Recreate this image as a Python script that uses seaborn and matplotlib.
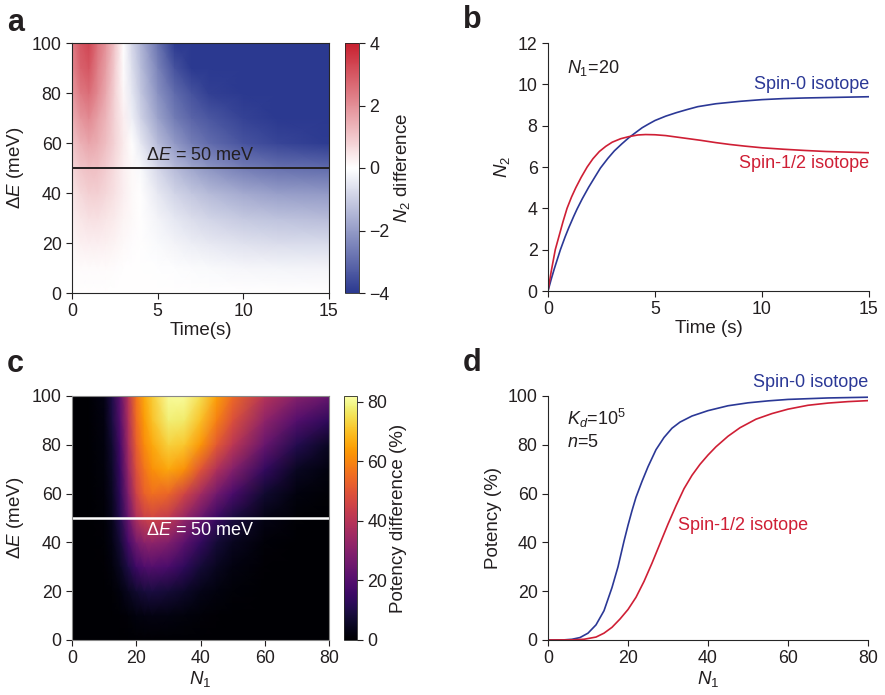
import numpy as np
import pandas as pd
import seaborn as sns
import matplotlib.pyplot as plt
from matplotlib.colors import LinearSegmentedColormap

# ---- panel a: N2 difference heatmap (rows = dE, cols = time) ----
a_time = [0, 0.5, 1, 1.5, 2, 2.5, 3, 3.5, 4, 5, 6, 7, 8, 10, 12, 15]
a_energy = [0, 10, 20, 30, 40, 50, 60, 70, 80, 90, 100]
a_n2diff = [
    [0] * 16,
    [0.05, 0.07, 0.08, 0.08, 0.07, 0.05, 0.03, 0.01, 0, -0.03, -0.06, -0.09, -0.12, -0.16, -0.2, -0.22],
    [0.15, 0.25, 0.3, 0.3, 0.25, 0.2, 0.1, 0.05, 0.0, -0.12, -0.25, -0.35, -0.45, -0.6, -0.7, -0.75],
    [0.3, 0.45, 0.55, 0.55, 0.45, 0.35, 0.2, 0.1, 0.02, -0.25, -0.5, -0.7, -0.85, -1.1, -1.25, -1.35],
    [0.45, 0.7, 0.85, 0.85, 0.7, 0.5, 0.3, 0.12, 0.0, -0.45, -0.85, -1.15, -1.4, -1.75, -1.95, -2.05],
    [0.7, 1.0, 1.15, 1.1, 0.9, 0.6, 0.3, 0.1, -0.1, -0.8, -1.35, -1.8, -2.15, -2.6, -2.85, -3.0],
    [1.0, 1.4, 1.6, 1.45, 1.15, 0.75, 0.35, 0.0, -0.45, -1.35, -2.05, -2.6, -2.95, -3.45, -3.75, -3.95],
    [1.4, 1.9, 2.1, 1.7, 1.3, 0.75, 0.3, -0.3, -0.85, -1.85, -2.65, -3.1, -3.4, -3.8, -4.1, -4.35],
    [1.8, 2.4, 2.6, 2.1, 1.5, 0.8, 0.15, -0.5, -1.1, -2.2, -3.0, -3.5, -3.85, -4.3, -4.6, -4.8],
    [2.1, 2.8, 3.0, 2.3, 1.7, 0.9, 0.05, -0.65, -1.3, -2.5, -3.5, -4.1, -4.5, -4.9, -5.1, -5.2],
    [2.3, 3.0, 3.3, 2.5, 1.9, 1.0, 0.0, -0.8, -1.5, -2.8, -4.0, -4.6, -4.9, -5.2, -5.3, -5.3],
]

# ---- panel b: N2 vs time for N1 = 20 ----
b_t_spin0 = [0, 0.15, 0.29, 0.45, 0.58, 0.8, 0.97, 1.2, 1.36, 1.6, 1.9, 2.2, 2.45, 2.8, 3.1, 3.45,
             3.78, 4.1, 4.4, 4.7, 5, 5.5, 6, 6.5, 7, 7.84, 9, 10, 11, 12, 13.5, 15]
b_n2_spin0 = [0, 0.57, 1.06, 1.58, 2.0, 2.62, 3.06, 3.61, 3.97, 4.46, 5.02, 5.53, 5.95, 6.42, 6.78, 7.12,
              7.42, 7.67, 7.9, 8.08, 8.25, 8.46, 8.63, 8.78, 8.92, 9.06, 9.18, 9.26, 9.31, 9.34, 9.37, 9.4]
b_t_spin12 = [0, 0.15, 0.34, 0.5, 0.7, 0.89, 1.1, 1.3, 1.55, 1.83, 2.1, 2.4, 2.7, 3.0, 3.4, 3.78, 4.2,
              4.56, 5.0, 5.5, 6.0, 6.5, 7.14, 7.84, 8.5, 9.2, 10, 11, 12, 13, 14, 15]
b_n2_spin12 = [0, 0.95, 2.0, 2.6, 3.35, 4.0, 4.55, 5.0, 5.5, 6.0, 6.4, 6.75, 7.0, 7.2, 7.37, 7.47, 7.55,
               7.57, 7.56, 7.52, 7.45, 7.38, 7.29, 7.18, 7.09, 7.01, 6.93, 6.86, 6.8, 6.75, 6.72, 6.69]

# ---- panel c: potency difference heatmap (rows = dE, cols = N1) ----
c_n1 = [0, 5, 10, 12.5, 15, 17.5, 20, 22.5, 25, 30, 35, 40, 45, 50, 60, 70, 80]
c_energy = [0, 10, 20, 30, 40, 50, 60, 70, 80, 90, 100]
c_potdiff = [
    [0] * 17,
    [0, 0, 0.1, 0.2, 0.5, 1.2, 2, 2.5, 2.7, 2.4, 1.8, 1.1, 0.6, 0.3, 0.1, 0, 0],
    [0.1, 0, 0.3, 0.8, 2.2, 4.5, 7, 8.5, 9, 8, 6, 3.5, 2, 1, 0.3, 0.1, 0],
    [0.1, 0.1, 0.5, 1.8, 5, 10, 16, 19, 20, 18, 13, 8, 4.5, 2.5, 0.6, 0.2, 0],
    [0.2, 0.1, 0.8, 3, 8, 17, 26, 31, 32, 29, 22, 14, 8, 4.5, 1.2, 0.3, 0.1],
    [0.3, 0.2, 1.2, 4, 11, 24, 38, 44, 46, 42, 33, 24, 15, 9, 3, 0.8, 0.3],
    [0.3, 0.2, 1.5, 5, 13, 29, 45, 53, 56, 54, 46, 36, 26, 18, 7, 2, 0.7],
    [0.4, 0.3, 1.8, 6, 15, 33, 49, 57, 62, 66, 62, 50, 39, 30, 14, 5, 2],
    [0.4, 0.3, 2, 7, 17, 36, 52, 61, 66, 73, 71, 63, 51, 41, 24, 11, 5],
    [0.5, 0.3, 2.5, 9, 20, 38, 55, 64, 70, 78, 77, 70, 59, 49, 32, 20, 13],
    [0.5, 0.3, 3, 10, 22, 40, 57, 66, 72, 81, 81, 75, 65, 55, 40, 30, 24],
]

# ---- panel d: potency vs N1 ----
d_n1_spin0 = [0, 4, 6, 8, 10, 12, 14, 16, 17.5, 19, 20, 21, 22, 23.5, 25, 27, 29, 31, 33, 36,
              40, 45, 50, 55, 60, 70, 80]
d_pot_spin0 = [0, 0.05, 0.3, 1.0, 2.8, 6.2, 12, 21.5, 30, 40.5, 47, 53, 58.5, 65, 71, 78, 83, 86.8,
               89.3, 91.8, 94, 96, 97.2, 98, 98.6, 99.2, 99.5]
d_n1_spin12 = [0, 6, 9, 12, 14, 16, 18, 20, 22, 24, 26, 28, 30, 32, 34, 36, 38, 40, 42, 45, 48,
               52, 56, 60, 65, 70, 75, 80]
d_pot_spin12 = [0, 0.05, 0.3, 1.2, 2.8, 5.2, 8.6, 12.5, 17.5, 24, 31.5, 39.5, 47.5, 55, 62, 67.5,
                72, 75.8, 79.2, 83.5, 87, 90.5, 92.8, 94.6, 96.2, 97.1, 97.7, 98.1]

blue = '#2b3896'
red = '#cf1f35'

sns.set_style('ticks')
plt.rcParams['font.family'] = ['Liberation Sans', 'DejaVu Sans']
plt.rcParams['mathtext.fontset'] = 'custom'
plt.rcParams['mathtext.rm'] = 'Liberation Sans'
plt.rcParams['mathtext.it'] = 'Liberation Sans:italic'
plt.rcParams['mathtext.bf'] = 'Liberation Sans:bold'
plt.rcParams['font.size'] = 13
plt.rcParams['axes.labelsize'] = 13.5
plt.rcParams['xtick.labelsize'] = 12.8
plt.rcParams['ytick.labelsize'] = 12.8
plt.rcParams['axes.linewidth'] = 0.8
plt.rcParams['xtick.major.width'] = 0.8
plt.rcParams['ytick.major.width'] = 0.8
plt.rcParams['xtick.major.size'] = 4
plt.rcParams['ytick.major.size'] = 4
plt.rcParams['text.color'] = '#231f20'
plt.rcParams['axes.labelcolor'] = '#231f20'
plt.rcParams['xtick.color'] = '#231f20'
plt.rcParams['ytick.color'] = '#231f20'

W, H = 885, 695
fig = plt.figure(figsize=(W / 100, H / 100), dpi=100)


def box(x0, y0, x1, y1):
    return [x0 / W, 1 - y1 / H, (x1 - x0) / W, (y1 - y0) / H]


ax_a = fig.add_axes(box(72, 43, 329, 293))
cax_a = fig.add_axes(box(345, 43, 359, 293))
ax_b = fig.add_axes(box(548, 43, 869, 291))
ax_c = fig.add_axes(box(72, 396, 329, 640))
cax_c = fig.add_axes(box(344, 396, 357, 640))
ax_d = fig.add_axes(box(548, 396, 868, 640))

# panel a
cmap_a = LinearSegmentedColormap.from_list('n2diff', ['#2b3990', '#ffffff', '#c8202f'])
m_a = ax_a.pcolormesh(a_time, a_energy, np.array(a_n2diff), cmap=cmap_a,
                      vmin=-4, vmax=4, shading='gouraud', rasterized=True)
ax_a.axhline(50, color='#231f20', lw=1.4)
ax_a.text(7.5, 55, r'$\mathit{\Delta E}$ = 50 meV', ha='center', va='center')
ax_a.set_xlim(0, 15)
ax_a.set_ylim(0, 100)
ax_a.set_xticks([0, 5, 10, 15])
ax_a.set_yticks([0, 20, 40, 60, 80, 100])
ax_a.set_xlabel('Time(s)', labelpad=1)
ax_a.set_ylabel(r'$\Delta\mathit{E}$ (meV)')
cb_a = fig.colorbar(m_a, cax=cax_a, ticks=[-4, -2, 0, 2, 4])
cb_a.outline.set_linewidth(0.6)
cb_a.set_label(r'$\mathit{N}_2$ difference', labelpad=2)

# panel b
sns.lineplot(x=b_t_spin0, y=b_n2_spin0, color=blue, lw=1.2, ax=ax_b)
sns.lineplot(x=b_t_spin12, y=b_n2_spin12, color=red, lw=1.2, ax=ax_b)
ax_b.set_xlim(0, 15)
ax_b.set_ylim(0, 12)
ax_b.set_xticks([0, 5, 10, 15])
ax_b.set_yticks(range(0, 13, 2))
ax_b.set_xlabel('Time (s)', labelpad=1)
ax_b.set_ylabel(r'$\mathit{N}_2$')
ax_b.text(0.9, 10.8, r'$\mathit{N}_{\mathit{1}}$=20', ha='left', va='center')
ax_b.text(15, 9.97, 'Spin-0 isotope', color=blue, ha='right', va='center')
ax_b.text(15, 6.19, 'Spin-1/2 isotope', color=red, ha='right', va='center')
sns.despine(ax=ax_b)

# panel c
m_c = ax_c.pcolormesh(c_n1, c_energy, np.array(c_potdiff), cmap='inferno',
                      vmin=0, vmax=82, shading='gouraud', rasterized=True)
ax_c.axhline(50, color='white', lw=1.8)
ax_c.text(40, 45, r'$\mathit{\Delta E}$ = 50 meV', color='white', ha='center', va='center')
ax_c.set_xlim(0, 80)
ax_c.set_ylim(0, 100)
ax_c.set_xticks([0, 20, 40, 60, 80])
ax_c.set_yticks([0, 20, 40, 60, 80, 100])
ax_c.set_xlabel(r'$\mathit{N}_1$', labelpad=1)
ax_c.set_ylabel(r'$\Delta\mathit{E}$ (meV)')
for s in ax_c.spines.values():
    s.set_color('#888888')
cb_c = fig.colorbar(m_c, cax=cax_c, ticks=[0, 20, 40, 60, 80])
cb_c.outline.set_linewidth(0.6)
cb_c.set_label('Potency difference (%)', labelpad=2)

# panel d
sns.lineplot(x=d_n1_spin0, y=d_pot_spin0, color=blue, lw=1.2, ax=ax_d)
sns.lineplot(x=d_n1_spin12, y=d_pot_spin12, color=red, lw=1.2, ax=ax_d)
ax_d.set_xlim(0, 80)
ax_d.set_ylim(0, 100)
ax_d.set_xticks([0, 20, 40, 60, 80])
ax_d.set_yticks([0, 20, 40, 60, 80, 100])
ax_d.set_xlabel(r'$\mathit{N}_1$', labelpad=1)
ax_d.set_ylabel('Potency (%)')
ax_d.text(4.8, 91, r'$\mathit{K}_{\mathit{d}}$=10$^5$', ha='left', va='center')
ax_d.text(4.8, 81, r'$\mathit{n}$=5', ha='left', va='center')
ax_d.text(80, 105.5, 'Spin-0 isotope', color=blue, ha='right', va='center')
ax_d.text(32.5, 47, 'Spin-1/2 isotope', color=red, ha='left', va='center')
sns.despine(ax=ax_d)

# panel letters
for lbl, x, y in [('a', 7, 23), ('b', 463, 20), ('c', 7, 364), ('d', 463, 363)]:
    fig.text(x / W, 1 - y / H, lbl, fontsize=22, fontweight='bold', ha='left', va='center')

fig.savefig('out.png', dpi=100)
